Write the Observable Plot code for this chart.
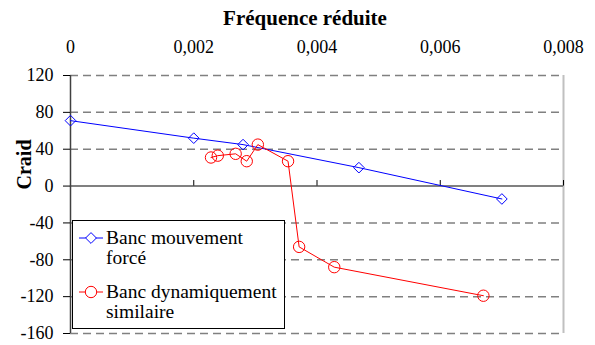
<!DOCTYPE html>
<html><head><meta charset="utf-8">
<script src="https://cdn.jsdelivr.net/npm/d3@7"></script>
<script src="https://cdn.jsdelivr.net/npm/@observablehq/plot@0.6"></script>
<style>
body{margin:0;background:#fff;}
#wrap{position:relative;width:595px;height:345px;font-family:'Liberation Serif';}
#wrap svg text{font-family:'Liberation Serif';}
#legend{position:absolute;left:72px;top:220px;width:211px;height:107px;border:1.5px solid #000;background:#fff;}
.entry{position:absolute;left:33px;width:176px;font-size:19.5px;line-height:20px;color:#000;font-family:'Liberation Serif';}
.sample{position:absolute;left:5px;}
</style></head><body><div id="wrap"></div>
<script>
const forceX = [0, 0.002, 0.0028, 0.00468, 0.007];
const forceY = [71, 52, 45, 20, -14];
const dynX = [0.00228, 0.00239, 0.00268, 0.00286, 0.00304, 0.00353, 0.00371, 0.00428, 0.0067];
const dynY = [31, 33, 35, 27, 45, 27, -66, -88, -119];
const xTicks = [0, 0.002, 0.004, 0.006, 0.008];
const yTicks = [-160, -120, -80, -40, 0, 40, 80, 120];
const gridY = [-160, -120, -80, -40, 40, 80, 120];
const seriesNames = ["Banc mouvement forcé", "Banc dynamiquement similaire"];
const seriesColors = ["#0000ff", "#ff0000"];
const xTitle = "Fréquence réduite";
const yTitle = "Craid";

const FONT = "Liberation Serif";
const force = forceX.map((x, i) => ({x, y: forceY[i]}));
const dyn = dynX.map((x, i) => ({x, y: dynY[i]}));

const xFmt = d => d === 0 ? "0" : d.toFixed(3).replace(".", ",");

const chart = Plot.plot({
  width: 595, height: 345,
  marginLeft: 70, marginRight: 32, marginTop: 75, marginBottom: 12,
  style: `font-family:'${FONT}';background:#fff;overflow:visible;`,
  x: {domain: [0, 0.008]},
  y: {domain: [-160, 120]},
  marks: [
    Plot.ruleY(gridY, {stroke: "#808080", strokeWidth: 1.5, strokeDasharray: "8,5"}),
    Plot.ruleX([0.008], {stroke: "#c0c0c0", strokeWidth: 2}),
    Plot.ruleY([0], {stroke: "#808080", strokeWidth: 2}),
    Plot.ruleX(xTicks, {y1: 0, y2: 6, stroke: "#000", strokeWidth: 1}),
    Plot.ruleX([0], {stroke: "#404040", strokeWidth: 1.5}),
    Plot.axisY({ticks: yTicks, tickSize: 7, tickPadding: 10, tickFormat: d => String(d), fontSize: 18, fontFamily: FONT, label: null, stroke: "#000"}),
    Plot.axisX({anchor: "top", ticks: xTicks, tickSize: 0, tickPadding: 23, tickFormat: xFmt, fontSize: 18, fontFamily: FONT, label: null}),
    Plot.text([xTitle], {frameAnchor: "top", text: d => d, lineAnchor: "bottom", dx: -12, dy: -51, fontSize: 21, fontWeight: "bold", fontFamily: FONT}),
    Plot.text([yTitle], {frameAnchor: "left", text: d => d, rotate: -90, dx: -46, dy: -15, fontSize: 20, fontWeight: "bold", fontFamily: FONT}),
    Plot.line(force, {x: "x", y: "y", stroke: seriesColors[0], strokeWidth: 1}),
    Plot.dot(force, {x: "x", y: "y", symbol: "diamond2", r: 4.8, stroke: seriesColors[0], fill: "none", strokeWidth: 1}),
    Plot.line(dyn, {x: "x", y: "y", stroke: seriesColors[1], strokeWidth: 1}),
    Plot.dot(dyn, {x: "x", y: "y", symbol: "circle", r: 5.7, stroke: seriesColors[1], fill: "none", strokeWidth: 1})
  ]
});
const wrap = document.getElementById("wrap");
wrap.appendChild(chart);

// legend
const leg = document.createElement("div");
leg.id = "legend";
const symbols = ["diamond", "circle"];
const entryTops = [7, 61];
const sampleTops = [9, 63];
seriesNames.forEach((name, i) => {
  const s = document.createElementNS("http://www.w3.org/2000/svg", "svg");
  s.setAttribute("class", "sample");
  s.setAttribute("width", 26); s.setAttribute("height", 16);
  s.style.top = sampleTops[i] + "px";
  const c = seriesColors[i];
  let html = `<line x1="1" x2="25" y1="8" y2="8" stroke="${c}" stroke-width="1"/>`;
  if (symbols[i] === "diamond") html += `<path d="M13,2.6L18.4,8L13,13.4L7.6,8Z" fill="#fff" stroke="${c}"/>`;
  else html += `<circle cx="13" cy="8" r="5.7" fill="#fff" stroke="${c}"/>`;
  s.innerHTML = html;
  leg.appendChild(s);
  const t = document.createElement("div");
  t.className = "entry";
  t.style.top = entryTops[i] + "px";
  t.style.fontFamily = FONT;
  t.textContent = name;
  leg.appendChild(t);
});
wrap.appendChild(leg);
</script></body></html>
